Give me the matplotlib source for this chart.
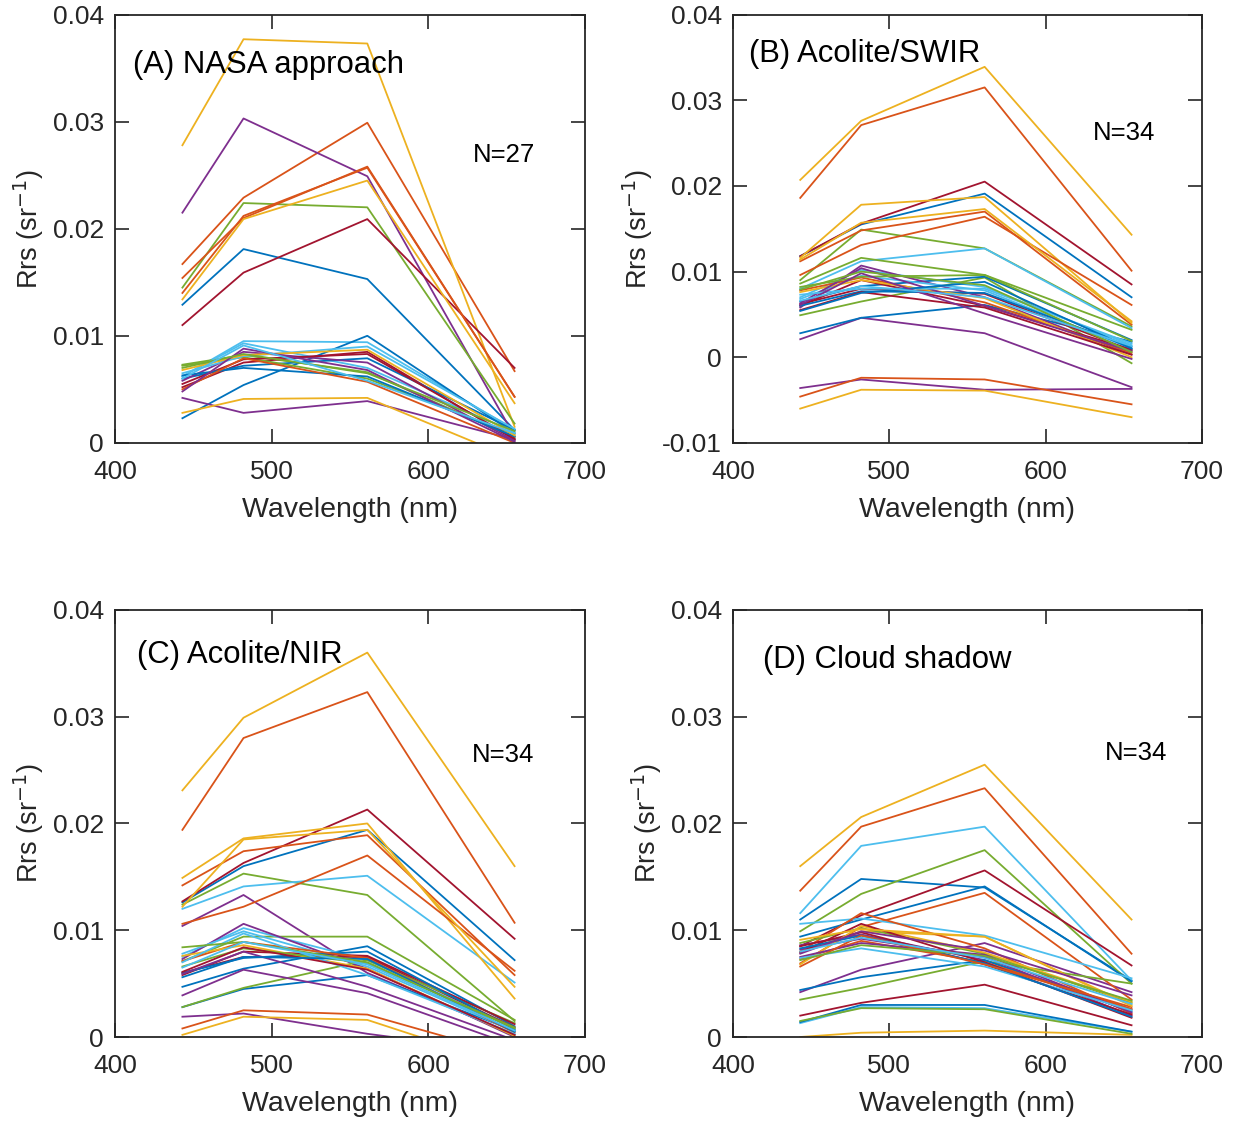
import numpy as np
import matplotlib.pyplot as plt
from cycler import cycler

plt.rcParams['font.family'] = ['Liberation Sans', 'DejaVu Sans']

# Landsat-8 OLI band centres (nm)
wavelength = [443, 482, 561, 655]

# Rrs values (x1e-3 sr^-1), one row per spectrum
nasa = [
    [12.9, 18.1, 15.3, 1.2],
    [16.7, 22.9, 29.9, 6.7],
    [27.8, 37.7, 37.3, 1.5],
    [21.5, 30.3, 24.9, 0.6],
    [14.5, 22.4, 22.0, 1.8],
    [6.2, 9.5, 9.4, 1.2],
    [11.0, 15.9, 20.9, 7.0],
    [2.3, 5.4, 10.0, 0.9],
    [15.4, 21.0, 25.8, 4.3],
    [13.4, 20.9, 24.5, 3.7],
    [4.2, 2.8, 3.9, 0.3],
    [7.3, 8.2, 6.6, 0.5],
    [6.2, 9.3, 7.0, 1.0],
    [5.2, 7.5, 8.5, 0.3],
    [6.0, 7.2, 7.9, 1.2],
    [14.0, 21.2, 25.7, 4.3],
    [2.8, 4.1, 4.2, -1.5],
    [5.8, 8.5, 7.5, 0.2],
    [7.2, 8.0, 6.0, 0.8],
    [6.5, 8.1, 9.0, 1.3],
    [5.5, 7.8, 8.3, 0.4],
    [6.3, 7.0, 6.2, 0.6],
    [5.0, 7.9, 5.7, 0.0],
    [6.8, 8.2, 8.7, 0.7],
    [4.8, 8.8, 6.8, 0.1],
    [7.0, 8.3, 6.5, 1.1],
    [6.0, 9.1, 5.8, 0.9],
]

swir = [
    [11.8, 15.5, 19.1, 7.0],
    [18.6, 27.1, 31.5, 10.1],
    [20.7, 27.6, 33.9, 14.3],
    [2.1, 4.6, 2.8, -3.5],
    [9.0, 14.9, 12.7, 3.6],
    [8.0, 11.2, 12.7, 3.4],
    [11.8, 15.6, 20.5, 8.5],
    [2.8, 4.6, 6.1, 1.8],
    [11.2, 14.8, 17.0, 3.8],
    [11.6, 17.8, 18.7, 4.0],
    [-3.6, -2.6, -3.8, -3.7],
    [4.9, 6.5, 9.3, -0.7],
    [7.0, 10.2, 8.2, 1.4],
    [6.2, 8.0, 7.4, 0.8],
    [6.5, 8.3, 9.4, 2.0],
    [9.6, 13.1, 16.4, 6.1],
    [11.4, 15.7, 17.3, 4.2],
    [5.8, 10.7, 7.0, 0.3],
    [8.6, 11.6, 9.6, 3.2],
    [6.8, 9.5, 7.8, 1.0],
    [6.0, 9.0, 6.0, 0.9],
    [6.0, 7.7, 7.5, 1.2],
    [7.8, 9.3, 6.4, 0.5],
    [7.6, 9.0, 6.9, 0.0],
    [6.3, 10.4, 6.0, 0.7],
    [8.2, 9.4, 9.6, 1.9],
    [7.3, 8.0, 8.0, 1.6],
    [5.5, 7.6, 5.8, 0.3],
    [5.4, 7.5, 8.8, 1.0],
    [-4.6, -2.4, -2.6, -5.5],
    [-6.0, -3.8, -3.9, -7.0],
    [6.1, 9.8, 5.1, -0.2],
    [7.9, 10.0, 8.4, 0.6],
    [6.6, 8.3, 7.0, 1.3],
]

nir = [
    [12.6, 16.0, 19.4, 7.2],
    [19.4, 28.0, 32.3, 10.7],
    [23.1, 29.9, 36.0, 16.0],
    [10.4, 13.3, 6.0, 0.2],
    [12.4, 15.3, 13.3, 1.5],
    [12.0, 14.1, 15.1, 5.1],
    [12.7, 16.3, 21.3, 9.2],
    [4.7, 6.4, 8.5, 1.0],
    [14.2, 17.4, 18.9, 5.8],
    [14.9, 18.6, 20.0, 3.6],
    [1.9, 2.2, 0.3, -1.5],
    [7.1, 9.4, 9.4, 1.6],
    [7.5, 10.2, 7.2, 0.8],
    [6.0, 7.5, 7.5, 0.9],
    [2.8, 4.5, 5.8, 0.6],
    [10.6, 12.2, 17.0, 6.2],
    [12.2, 18.5, 19.4, 4.7],
    [7.3, 10.6, 6.4, 0.0],
    [2.8, 4.6, 7.2, 1.3],
    [7.8, 9.9, 6.6, 0.5],
    [5.8, 8.0, 7.6, 1.2],
    [6.0, 7.4, 8.0, 0.7],
    [7.1, 8.9, 7.4, 0.4],
    [7.6, 8.6, 6.4, 0.1],
    [5.9, 8.0, 4.7, -0.3],
    [6.6, 8.3, 6.9, 0.9],
    [7.0, 9.7, 5.8, 0.3],
    [6.1, 8.4, 6.3, 0.2],
    [5.6, 7.5, 7.3, 0.5],
    [0.8, 2.5, 2.1, -1.8],
    [0.2, 1.9, 1.6, -2.9],
    [3.9, 6.3, 4.1, -0.8],
    [8.4, 8.9, 7.0, 0.8],
    [6.5, 8.9, 6.8, 0.6],
]

shadow = [
    [11.0, 14.8, 14.0, 5.3],
    [13.7, 19.7, 23.3, 7.8],
    [16.0, 20.6, 25.5, 11.0],
    [4.2, 6.3, 8.8, 4.2],
    [9.9, 13.4, 17.5, 5.0],
    [11.6, 17.9, 19.7, 5.3],
    [8.5, 11.4, 15.6, 6.7],
    [9.4, 11.0, 14.1, 5.2],
    [6.9, 10.3, 13.5, 3.5],
    [8.0, 9.9, 9.4, 3.0],
    [8.6, 9.6, 7.2, 2.6],
    [3.5, 4.6, 7.1, 5.0],
    [10.6, 11.1, 9.5, 5.5],
    [2.0, 3.2, 4.9, 1.1],
    [4.4, 5.6, 7.2, 2.4],
    [8.0, 11.6, 8.3, 2.2],
    [0.0, 0.4, 0.6, 0.2],
    [8.2, 9.2, 7.5, 2.0],
    [8.8, 10.2, 7.8, 3.2],
    [1.3, 2.8, 2.7, 0.5],
    [8.5, 9.8, 6.8, 2.1],
    [1.4, 3.0, 3.0, 0.5],
    [7.3, 9.0, 7.0, 2.6],
    [6.8, 10.4, 7.9, 3.3],
    [7.5, 8.8, 7.7, 2.3],
    [1.5, 2.7, 2.6, 0.3],
    [7.4, 8.3, 6.6, 2.5],
    [7.9, 10.6, 7.0, 1.8],
    [8.3, 9.5, 6.9, 1.9],
    [6.6, 9.5, 6.8, 2.8],
    [9.1, 10.1, 9.4, 2.9],
    [7.8, 9.9, 8.1, 3.9],
    [7.2, 8.6, 7.6, 3.4],
    [8.0, 9.3, 7.4, 3.1],
]

titles = ["(A) NASA approach", "(B) Acolite/SWIR", "(C) Acolite/NIR", "(D) Cloud shadow"]
counts = ["N=27", "N=34", "N=34", "N=34"]
panels = [nasa, swir, nir, shadow]

# MATLAB default line colours
matlab_colors = ["#0072BD", "#D95319", "#EDB120", "#7E2F8E",
                 "#77AC30", "#4DBEEE", "#A2142F"]
axis_color = "#262626"

fig = plt.figure(figsize=(12.37, 11.24), dpi=100)

# axes boxes in figure fractions: left, bottom, width, height
boxes = [
    [0.093, 0.606, 0.380, 0.381],
    [0.5926, 0.606, 0.379, 0.381],
    [0.093, 0.0774, 0.380, 0.380],
    [0.5926, 0.0774, 0.379, 0.380],
]
ylims = [(0, 0.04), (-0.01, 0.04), (0, 0.04), (0, 0.04)]
title_pos = [(0.038, 0.883), (0.034, 0.907), (0.047, 0.895), (0.064, 0.883)]
n_pos = [(0.762, 0.673), (0.768, 0.724), (0.760, 0.660), (0.793, 0.665)]

for k in range(4):
    ax = fig.add_axes(boxes[k])
    ax.set_prop_cycle(cycler(color=matlab_colors))
    spectra = np.array(panels[k]) / 1000.0
    for row in spectra:
        ax.plot(wavelength, row, linewidth=1.3)

    ax.set_xlim(400, 700)
    ax.set_ylim(*ylims[k])
    ax.set_xticks([400, 500, 600, 700])
    yt = np.arange(ylims[k][0], 0.0401, 0.01)
    ax.set_yticks(yt)
    ax.set_yticklabels(["0" if abs(v) < 1e-9 else ("%g" % round(v, 2)) for v in yt])

    ax.tick_params(direction="in", length=10, width=1.2, top=True, right=True,
                   labelsize=19, colors=axis_color)
    ax.tick_params(axis="x", pad=12.5)
    ax.tick_params(axis="y", pad=8)
    for s in ax.spines.values():
        s.set_color(axis_color)
        s.set_linewidth(1.3)

    ax.set_xlabel("Wavelength (nm)", fontsize=20.5, color=axis_color, labelpad=9)
    ax.set_ylabel("Rrs (sr$^{-1}$)", fontsize=19.5, color=axis_color, labelpad=5)

    ax.text(title_pos[k][0], title_pos[k][1], titles[k], transform=ax.transAxes,
            fontsize=22.4, ha="left", va="center", color="black")
    ax.text(n_pos[k][0], n_pos[k][1], counts[k], transform=ax.transAxes,
            fontsize=18.5, ha="left", va="center", color="black")

fig.savefig("out.png", dpi=100)
